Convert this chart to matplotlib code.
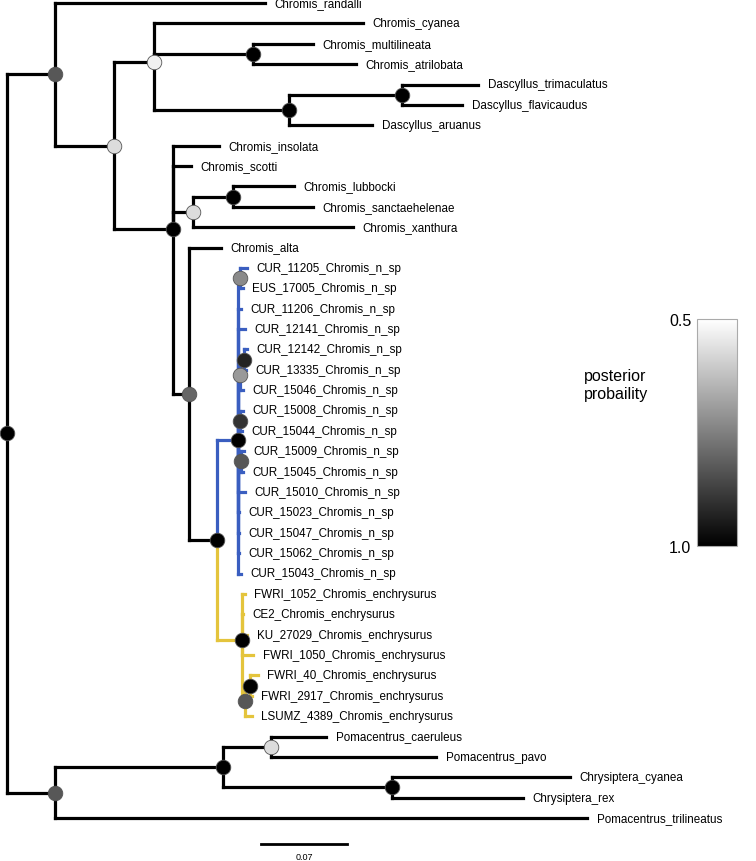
import re
import numpy as np
import matplotlib
matplotlib.use('Agg')
import matplotlib.pyplot as plt
from matplotlib.colors import LinearSegmentedColormap, Normalize
from matplotlib.cm import ScalarMappable

plt.rcParams['font.family'] = ['Liberation Sans', 'DejaVu Sans']

# Tree: branch lengths in subst./site, node labels = posterior probability
blue_clade = ("((CUR_11205_Chromis_n_sp:0.0057,EUS_17005_Chromis_n_sp:0.0024)0.73:0.0016,"
              "CUR_11206_Chromis_n_sp:0.0024,CUR_12141_Chromis_n_sp:0.0057,"
              "((CUR_12142_Chromis_n_sp:0.0024,CUR_13335_Chromis_n_sp:0.0016)0.93:0.0033,"
              "CUR_15046_Chromis_n_sp:0.0024)0.7:0.0016,"
              "(CUR_15008_Chromis_n_sp:0.0024,CUR_15044_Chromis_n_sp:0.0016)0.9:0.0016,"
              "(CUR_15009_Chromis_n_sp:0.0024,CUR_15045_Chromis_n_sp:0.0016)0.83:0.0024,"
              "CUR_15010_Chromis_n_sp:0.0057,CUR_15023_Chromis_n_sp:0.0008,"
              "CUR_15047_Chromis_n_sp:0.0008,CUR_15062_Chromis_n_sp:0.0008,"
              "CUR_15043_Chromis_n_sp:0.0024)1.0:0.0171")
yellow_clade = ("(FWRI_1052_Chromis_enchrysurus:0.0024,CE2_Chromis_enchrysurus:0.0008,"
                "KU_27029_Chromis_enchrysurus:0.0041,FWRI_1050_Chromis_enchrysurus:0.0090,"
                "((FWRI_40_Chromis_enchrysurus:0.0065,FWRI_2917_Chromis_enchrysurus:0.0016)1.0:0.0041,"
                "LSUMZ_4389_Chromis_enchrysurus:0.0057)0.83:0.0024)1.0:0.0204")
chromis_top = ("(Chromis_randalli:0.1709,((Chromis_cyanea:0.1701,"
               "(Chromis_multilineata:0.0488,Chromis_atrilobata:0.0838)1.0:0.0806,"
               "((Dascyllus_trimaculatus:0.0619,Dascyllus_flavicaudus:0.0488)1.0:0.0920,"
               "Dascyllus_aruanus:0.0676)1.0:0.1099)0.53:0.0326,"
               "(Chromis_insolata:0.0374,Chromis_scotti:0.0147,"
               "((Chromis_lubbocki:0.0497,Chromis_sanctaehelenae:0.0651)1.0:0.0326,"
               "Chromis_xanthura:0.1302)0.57:0.0163,"
               "(Chromis_alta:0.0260,(" + blue_clade + "," + yellow_clade + ")1.0:0.0228)0.8:0.0130"
               ")1.0:0.0480)0.57:0.0480)0.83:0.0391")
outgroup = ("(((Pomacentrus_caeruleus:0.0448,Pomacentrus_pavo:0.1343)0.57:0.0391,"
            "(Chrysiptera_cyanea:0.1449,Chrysiptera_rex:0.1066)1.0:0.1376)1.0:0.1368,"
            "Pomacentrus_trilineatus:0.4330)0.83:0.0391")
newick = "(" + chromis_top + "," + outgroup + ")1.0;"

scale_len = 0.07
prob_lo, prob_hi = 0.5, 1.0
blue = '#3a5ec0'
yellow = '#e4c43c'


def parse(s):
    pos = 0

    def node():
        nonlocal pos
        n = {'children': [], 'name': '', 'len': 0.0, 'pp': None}
        if s[pos] == '(':
            pos += 1
            while True:
                n['children'].append(node())
                if s[pos] == ',':
                    pos += 1
                    continue
                pos += 1
                break
        label = re.match(r'[^:,();]*', s[pos:]).group(0)
        pos += len(label)
        if n['children']:
            n['pp'] = float(label) if label else None
        else:
            n['name'] = label
        if pos < len(s) and s[pos] == ':':
            pos += 1
            num = re.match(r'[0-9.eE+-]+', s[pos:]).group(0)
            n['len'] = float(num)
            pos += len(num)
        return n

    return node()


tree = parse(newick)
tips = []


def layout(n, x0):
    n['x'] = x0 + n['len']
    if n['children']:
        for c in n['children']:
            layout(c, n['x'])
        n['y'] = np.mean([c['y'] for c in n['children']])
    else:
        n['y'] = len(tips)
        tips.append(n)


def names(n):
    if not n['children']:
        return [n['name']]
    return [t for c in n['children'] for t in names(c)]


def colour(n):
    t = names(n)
    if all(x.endswith('Chromis_n_sp') for x in t):
        return blue
    if all(x.endswith('enchrysurus') for x in t):
        return yellow
    return 'black'


layout(tree, 0.0)

cmap = LinearSegmentedColormap.from_list('pp', ['white', 'black'])
norm = Normalize(prob_lo, prob_hi)

fig = plt.figure(figsize=(7.56, 8.62), dpi=100)
ax = fig.add_axes([0, 0, 1, 1])
ax.axis('off')
ppu = 86 / scale_len            # pixels per unit of branch length
row = 20.375                    # pixels per tip
ax.set_xlim(-7 / ppu, 749 / ppu)
ax.set_ylim((862 - 4) / row, -4 / row)

lw = 2.3
internal = []


def draw(n):
    if not n['children']:
        ax.text(n['x'] + 9.5 / ppu, n['y'], n['name'], fontsize=8.4,
                va='center', ha='left')
        return
    internal.append(n)
    for c in n['children']:
        col = colour(c)
        ax.plot([n['x'], n['x']], [n['y'], c['y']], color=col, lw=lw,
                solid_capstyle='projecting', zorder=2)
        ax.plot([n['x'], c['x']], [c['y'], c['y']], color=col, lw=lw,
                solid_capstyle='projecting', zorder=2)
        draw(c)


draw(tree)

for n in internal:
    ax.plot(n['x'], n['y'], 'o', ms=10.5, mfc=cmap(norm(n['pp'])),
            mec='#555555', mew=0.6, zorder=5)

# scale bar
sx = 254 / ppu
sy = (845 - 4) / row
ax.plot([sx, sx + scale_len], [sy, sy], color='black', lw=2.0)
ax.text(sx + scale_len / 2, (858 - 4) / row, f'{scale_len:.2f}', fontsize=6.5,
        ha='center', va='center')

# colour bar
cax = fig.add_axes([697 / 756, (862 - 547) / 862, 40 / 756, 227 / 862])
cb = fig.colorbar(ScalarMappable(norm=norm, cmap=cmap), cax=cax)
cax.invert_yaxis()
cb.set_ticks([prob_lo, prob_hi])
cb.set_ticklabels(['0.5', '1.0'])
cax.yaxis.set_ticks_position('left')
cax.tick_params(length=0, labelsize=11.5, pad=4)
cb.outline.set_edgecolor('#aaaaaa')
cb.outline.set_linewidth(0.8)
fig.text(584 / 756, 1 - 386 / 862, 'posterior\nprobaility', fontsize=11.5,
         ha='left', va='center', linespacing=1.25)

fig.savefig('out.png', dpi=100)
